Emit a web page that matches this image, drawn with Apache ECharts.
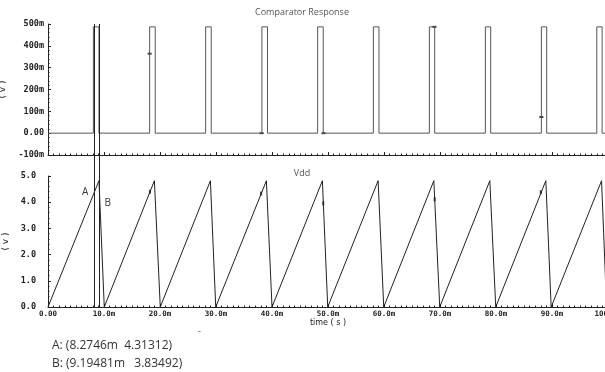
<!DOCTYPE html>
<html><head><meta charset="utf-8">
<script src="https://cdn.jsdelivr.net/npm/echarts@6/dist/echarts.min.js"></script>
<style>html,body{margin:0;padding:0;background:#fff}#c{width:605px;height:372px}</style>
</head><body><div id="c"></div>
<script>
// ---- data (time in ms, voltage in V) ----
const xTicks = [0, 10, 20, 30, 40, 50, 60, 70, 80, 90, 100];
const pulseStart = [8.1, 18.15, 28.15, 38.2, 48.15, 58.1, 68.1, 78.1, 88.1, 98.0];
const pulseEnd   = [9.1, 19.15, 29.15, 39.2, 49.15, 59.1, 69.05, 79.05, 89.05, 98.95];
const pulseHigh  = [0.487, 0.487, 0.487, 0.487, 0.487, 0.487, 0.487, 0.487, 0.487, 0.487];
const vddZeroT   = [0, 10.05, 20.05, 29.95, 40.0, 49.95, 59.95, 69.95, 79.95, 89.85, 99.75];
const vddPeakT   = [9.1, 19.0, 29.0, 39.0, 49.0, 58.95, 68.9, 78.9, 88.9, 98.85];
const vddPeakV   = [4.82, 4.82, 4.82, 4.82, 4.82, 4.82, 4.82, 4.82, 4.82, 4.82];
const compMarks  = [[18.15, 0.364], [69.0, 0.487], [88.1, 0.074], [38.15, 0], [49.2, 0]];
const vddMarks   = [[18.2, 4.40], [38.05, 4.33], [49.15, 3.96], [69.05, 4.11], [88.0, 4.38]];
const cursorA = [8.2746, 4.31312];
const cursorB = [9.19481, 3.83492];
const readA = 'A: (8.2746m  4.31312)';
const readB = 'B: (9.19481m   3.83492)';

// build series point lists
const compData = [[0, 0]];
for (let i = 0; i < pulseStart.length; i++) {
  compData.push([pulseStart[i], 0], [pulseStart[i], pulseHigh[i]], [pulseEnd[i], pulseHigh[i]], [pulseEnd[i], 0]);
}
compData.push([100, 0]);
const vddData = [];
for (let i = 0; i < vddPeakT.length; i++) {
  vddData.push([vddZeroT[i], 0], [vddPeakT[i], vddPeakV[i]]);
}
vddData.push([vddZeroT[vddZeroT.length - 1], 0]);

const mono = 'DejaVu Sans Mono';
const axisCol = '#222';
const xFmt = v => v === 0 ? '0.00' : v.toFixed(1) + 'm';
function xAxisCfg(grid, labels) {
  return {
    type: 'value', gridIndex: grid, min: 0, max: 100, interval: 10,
    axisLine: { show: true, onZero: false, lineStyle: { color: axisCol, width: 1 } },
    axisTick: { show: true, inside: true, length: 3, lineStyle: { color: axisCol } },
    minorTick: { show: true, splitNumber: 10, length: 1.5, lineStyle: { color: axisCol } },
    splitLine: { show: false }, minorSplitLine: { show: false },
    axisLabel: labels ? { show: true, formatter: xFmt, fontFamily: mono, fontWeight: 'bold', fontSize: 7.5, color: '#222', margin: 3, showMaxLabel: true } : { show: false },
    name: labels ? 'time ( s )' : '', nameLocation: 'middle', nameGap: 12,
    nameTextStyle: { fontFamily: 'DejaVu Sans', fontSize: 8, color: '#222' }
  };
}
function yAxisCfg(grid, min, max, interval, fmt, margin) {
  return {
    type: 'value', gridIndex: grid, min: min, max: max, interval: interval,
    axisLine: { show: true, onZero: false, lineStyle: { color: axisCol, width: 1 } },
    axisTick: { show: true, inside: true, length: 3, lineStyle: { color: axisCol } },
    minorTick: { show: true, splitNumber: 5, length: 1.5, lineStyle: { color: axisCol } },
    splitLine: { show: false }, minorSplitLine: { show: false },
    axisLabel: { formatter: fmt, fontFamily: mono, fontWeight: 'bold', fontSize: 8.5, color: '#222', margin: margin },
    name: '( v )', nameLocation: 'middle', nameRotate: 90, nameGap: 31,
    nameTextStyle: { fontFamily: 'DejaVu Sans', fontSize: 9, color: '#222' }
  };
}

const chart = echarts.init(document.getElementById('c'), null, { renderer: 'canvas' });
chart.setOption({
  animation: false,
  backgroundColor: '#fff',
  title: [
    { text: 'Comparator Response', left: 297, top: 3, textAlign: 'center', textStyle: { fontFamily: 'Open Sans', fontSize: 9, fontWeight: 'normal', color: '#555' } },
    { text: 'Vdd', left: 297, top: 164, textAlign: 'center', textStyle: { fontFamily: 'Open Sans', fontSize: 9, fontWeight: 'normal', color: '#555' } },
    { text: '-', left: 193, top: 322, textStyle: { fontFamily: 'Open Sans', fontSize: 9, fontWeight: 'normal', color: '#444' } },
    { text: readA, left: 47, top: 335, textStyle: { fontFamily: 'Open Sans', fontSize: 12, fontWeight: 'normal', color: '#333' } },
    { text: readB, left: 47, top: 353, textStyle: { fontFamily: 'Open Sans', fontSize: 12, fontWeight: 'normal', color: '#333' } }
  ],
  grid: [
    { left: 48, top: 24, width: 560, height: 131, containLabel: false, outerBoundsMode: 'none' },
    { left: 48, top: 176, width: 560, height: 131, containLabel: false, outerBoundsMode: 'none' }
  ],
  xAxis: [xAxisCfg(0, false), xAxisCfg(1, true)],
  yAxis: [
    yAxisCfg(0, -0.1, 0.5, 0.1, v => Math.abs(v) < 1e-9 ? '0.00' : Math.round(v * 1000) + 'm', 4),
    yAxisCfg(1, 0, 5, 1, v => v.toFixed(1), 12)
  ],
  series: [
    { type: 'line', xAxisIndex: 0, yAxisIndex: 0, data: compData, showSymbol: false, symbol: 'none',
      lineStyle: { color: '#555', width: 1 }, clip: true },
    { type: 'scatter', xAxisIndex: 0, yAxisIndex: 0, data: compMarks, symbol: 'rect', symbolSize: [4, 2],
      itemStyle: { color: '#111' } },
    { type: 'line', xAxisIndex: 1, yAxisIndex: 1, data: vddData, showSymbol: false, symbol: 'none',
      lineStyle: { color: '#222', width: 1 }, clip: true,
      markPoint: {
        symbol: 'circle', symbolSize: 0,
        data: [
          { coord: cursorA, label: { show: true, formatter: 'A', position: 'left', distance: 6, offset: [0, -2], fontFamily: 'Open Sans', fontSize: 10, color: '#333' } },
          { coord: cursorB, label: { show: true, formatter: 'B', position: 'right', distance: 5, offset: [0, -3], fontFamily: 'Open Sans', fontSize: 10, color: '#333' } }
        ]
      } },
    { type: 'scatter', xAxisIndex: 1, yAxisIndex: 1, data: vddMarks, symbol: 'rect', symbolSize: [2, 4],
      itemStyle: { color: '#111' } }
  ]
});

// cursor lines spanning both plots, positioned through the axes' scales
function cursorLine(t) {
  const x = Math.round(chart.convertToPixel({ xAxisIndex: 1 }, t)) + 0.5;
  const yTop = chart.convertToPixel({ yAxisIndex: 0 }, 0.5);
  const yBot = chart.convertToPixel({ yAxisIndex: 1 }, 0);
  return { type: 'line', shape: { x1: x, y1: yTop, x2: x, y2: yBot }, style: { stroke: '#222', lineWidth: 1 }, z: 10 };
}
chart.setOption({ graphic: [cursorLine(cursorA[0]), cursorLine(cursorB[0])] });
</script>
</body></html>
